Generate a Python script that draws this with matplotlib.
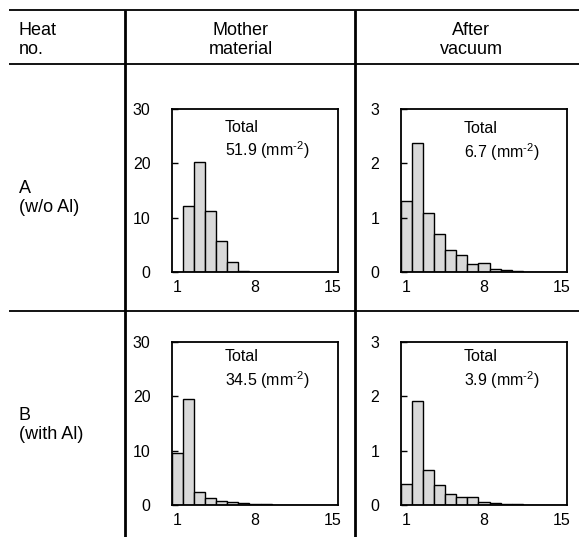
import matplotlib
matplotlib.use("Agg")
import matplotlib.pyplot as plt
import numpy as np

plt.rcParams['font.family'] = ['Liberation Sans', 'DejaVu Sans']
plt.rcParams['mathtext.fontset'] = 'custom'
plt.rcParams['mathtext.rm'] = 'Liberation Sans'

# ---------------- data ----------------
bins = list(range(1, 16))
A_mother = [0, 12.2, 20.2, 11.2, 5.7, 1.9, 0.2, 0.05, 0, 0, 0, 0, 0, 0, 0]
A_after = [1.30, 2.38, 1.08, 0.70, 0.40, 0.31, 0.14, 0.16, 0.06, 0.03, 0.02, 0, 0, 0, 0]
B_mother = [9.65, 19.55, 2.37, 1.27, 0.79, 0.49, 0.30, 0.18, 0.10, 0.08, 0.05, 0.03, 0.02, 0.01, 0]
B_after = [0.39, 1.92, 0.65, 0.36, 0.20, 0.15, 0.15, 0.06, 0.03, 0.02, 0.01, 0, 0, 0, 0]
totals = {"A_mother": "51.9", "A_after": "6.7", "B_mother": "34.5", "B_after": "3.9"}
mother_yticks = [0, 10, 20, 30]
after_yticks = [0, 1, 2, 3]
xticks = [1, 8, 15]
col_headers = [("Mother", "material"), ("After", "vacuum")]
row_headers = [("A", "(w/o Al)"), ("B", "(with Al)")]

W, H = 579, 537
fig = plt.figure(figsize=(W / 100, H / 100), dpi=100)

# background axes in pixel coordinates for table lines
bg = fig.add_axes([0, 0, 1, 1])
bg.set_xlim(0, W)
bg.set_ylim(H, 0)
bg.axis('off')

hl = dict(color='black', lw=1.3, solid_capstyle='butt')
vl = dict(color='black', lw=2.0, solid_capstyle='butt')
for y in (10, 64, 311):
    bg.plot([9, W], [y, y], **hl)
for x in (125, 355):
    bg.plot([x, x], [10, H], **vl)

fs_tab = 13
bg.text(19, 35, "Heat", fontsize=fs_tab, ha='left', va='baseline')
bg.text(19, 54, "no.", fontsize=fs_tab, ha='left', va='baseline')
for cx, (l1, l2) in zip((241, 471), col_headers):
    bg.text(cx, 35, l1, fontsize=fs_tab, ha='center', va='baseline')
    bg.text(cx, 54, l2, fontsize=fs_tab, ha='center', va='baseline')
for (y1, y2), (l1, l2) in zip(((193, 212), (420, 439)), row_headers):
    bg.text(19, y1, l1, fontsize=fs_tab, ha='left', va='baseline')
    bg.text(19, y2, l2, fontsize=fs_tab, ha='left', va='baseline')

def px_axes(left, top, width, height):
    return fig.add_axes([left / W, 1 - (top + height) / H, width / W, height / H])

panels = [
    (172, 109, A_mother, mother_yticks, "A_mother", 0.32, (0.86, 0.71)),
    (401, 109, A_after, after_yticks, "A_after", 0.38, (0.855, 0.70)),
    (172, 342, B_mother, mother_yticks, "B_mother", 0.32, (0.885, 0.733)),
    (401, 342, B_after, after_yticks, "B_after", 0.38, (0.885, 0.733)),
]
fs_tick = 11.5
for left, top, vals, yt, key, tx, (ty1, ty2) in panels:
    ax = px_axes(left, top, 166, 163)
    ax.bar(bins, vals, width=1.0, color='#d9d9d9', edgecolor='black', linewidth=1.0)
    ax.set_xlim(0.5, 15.5)
    ax.set_ylim(yt[0], yt[-1])
    ax.set_xticks(xticks)
    ax.set_yticks(yt)
    ax.tick_params(axis='y', direction='in', length=4, width=1.0, pad=15.5, labelsize=fs_tick)
    ax.tick_params(axis='x', length=0, pad=6, labelsize=fs_tick)
    for s in ax.spines.values():
        s.set_linewidth(1.3)
    ax.text(tx, ty1, "Total", transform=ax.transAxes, fontsize=fs_tick, ha='left', va='baseline')
    ax.text(tx, ty2, totals[key] + r" (mm$^{\text{-2}}$)", transform=ax.transAxes,
            fontsize=fs_tick, ha='left', va='baseline')

fig.savefig("out.png", dpi=100)
